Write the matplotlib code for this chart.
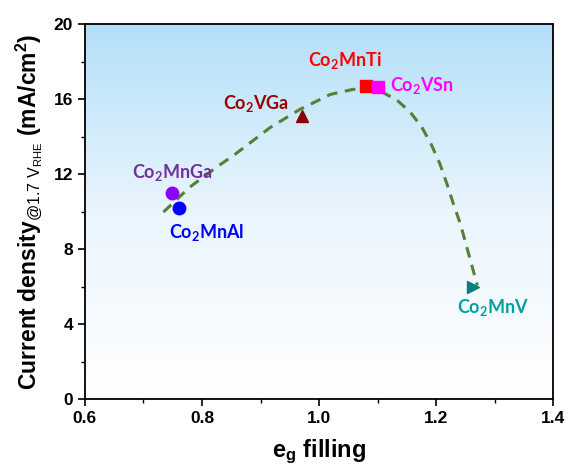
import numpy as np
import matplotlib
matplotlib.use("Agg")
import matplotlib.pyplot as plt
from matplotlib.colors import LinearSegmentedColormap

plt.rcParams['font.family'] = ['Liberation Sans', 'DejaVu Sans']
plt.rcParams['mathtext.fontset'] = 'custom'
plt.rcParams['mathtext.rm'] = 'Liberation Sans'
plt.rcParams['mathtext.bf'] = 'Liberation Sans:bold'
plt.rcParams['mathtext.it'] = 'Liberation Sans:italic'
plt.rcParams['mathtext.sf'] = 'Lato:bold'

# ---- data ----
compounds = ["Co$_\\mathsf{2}$MnGa", "Co$_\\mathsf{2}$MnAl", "Co$_\\mathsf{2}$VGa",
             "Co$_\\mathsf{2}$MnTi", "Co$_\\mathsf{2}$VSn", "Co$_\\mathsf{2}$MnV"]
eg_filling = [0.749, 0.760, 0.970, 1.080, 1.100, 1.263]
current_density = [11.01, 10.22, 15.11, 16.69, 16.65, 5.99]
colors = ["#8B00FF", "#0000FF", "#8B0000", "#FF0000", "#FF00FF", "#008080"]
label_colors = ["#7030A0", "#0000FF", "#990000", "#FF0000", "#FF00FF", "#00A0A0"]
markers = ["o", "o", "^", "s", "s", ">"]
label_x = [0.749, 0.807, 0.892, 1.044, 1.176, 1.297]
label_y = [12.1, 8.87, 15.79, 18.08, 16.75, 4.92]

fit_x = [0.734, 0.779, 0.825, 0.856, 0.916, 0.967, 1.019, 1.058, 1.081, 1.107,
         1.133, 1.155, 1.175, 1.192, 1.206, 1.218, 1.229, 1.241, 1.252, 1.263, 1.270]
fit_y = [9.98, 11.31, 12.38, 13.05, 14.48, 15.45, 16.25, 16.52, 16.52, 16.38,
         15.94, 15.32, 14.52, 13.54, 12.56, 11.49, 10.43, 9.36, 8.11, 6.87, 6.07]

xticks = [0.6, 0.8, 1.0, 1.2, 1.4]
yticks = [0, 4, 8, 12, 16, 20]

fig = plt.figure(figsize=(5.70, 4.71), dpi=100)
ax = fig.add_axes([0.149, 0.152, 0.822, 0.797])
ax.set_xlim(0.6, 1.4)
ax.set_ylim(0, 20)

# gradient background
cmap = LinearSegmentedColormap.from_list("bg", ["#FFFFFF", "#EAF5FD", "#B3DFF9"])
grad = np.linspace(0, 1, 256).reshape(-1, 1)
ax.imshow(grad, cmap=cmap, aspect='auto', origin='lower',
          extent=[0.6, 1.4, 0, 20], zorder=0)

ax.plot(fit_x, fit_y, linestyle=(0, (3.5, 2.5)), color="#548235", lw=2.2, zorder=2)

sizes = [9, 9, 9, 8, 8, 9]
for i in range(len(compounds)):
    ax.plot(eg_filling[i], current_density[i], marker=markers[i], color=colors[i],
            markersize=sizes[i], linestyle='none', zorder=3)
    ax.text(label_x[i], label_y[i], compounds[i], color=label_colors[i],
            fontsize=13, fontweight='bold', family='Lato',
            ha='center', va='center', zorder=4)

ax.set_xticks(xticks)
ax.set_yticks(yticks)
ax.set_xticklabels([f"{v:.1f}" for v in xticks], fontsize=12.5, fontweight='bold')
ax.set_yticklabels([str(v) for v in yticks], fontsize=12.5, fontweight='bold')
ax.set_xticks([0.7, 0.9, 1.1, 1.3], minor=True)
ax.set_yticks([2, 6, 10, 14, 18], minor=True)
ax.tick_params(which='major', direction='out', length=5, width=1.2)
ax.tick_params(which='minor', direction='out', length=3, width=1.0)
for s in ax.spines.values():
    s.set_linewidth(1.3)

ax.set_xlabel("e$_\\mathbf{g}$ filling", fontsize=17, fontweight='bold', labelpad=8)
ax.set_ylabel("Current density$_{\\mathrm{@1.7\\ V}_{\\mathrm{RHE}}}$ (mA/cm$^\\mathbf{2}$)",
              fontsize=16.5, fontweight='bold', labelpad=6)

fig.savefig("out.png", dpi=100)
